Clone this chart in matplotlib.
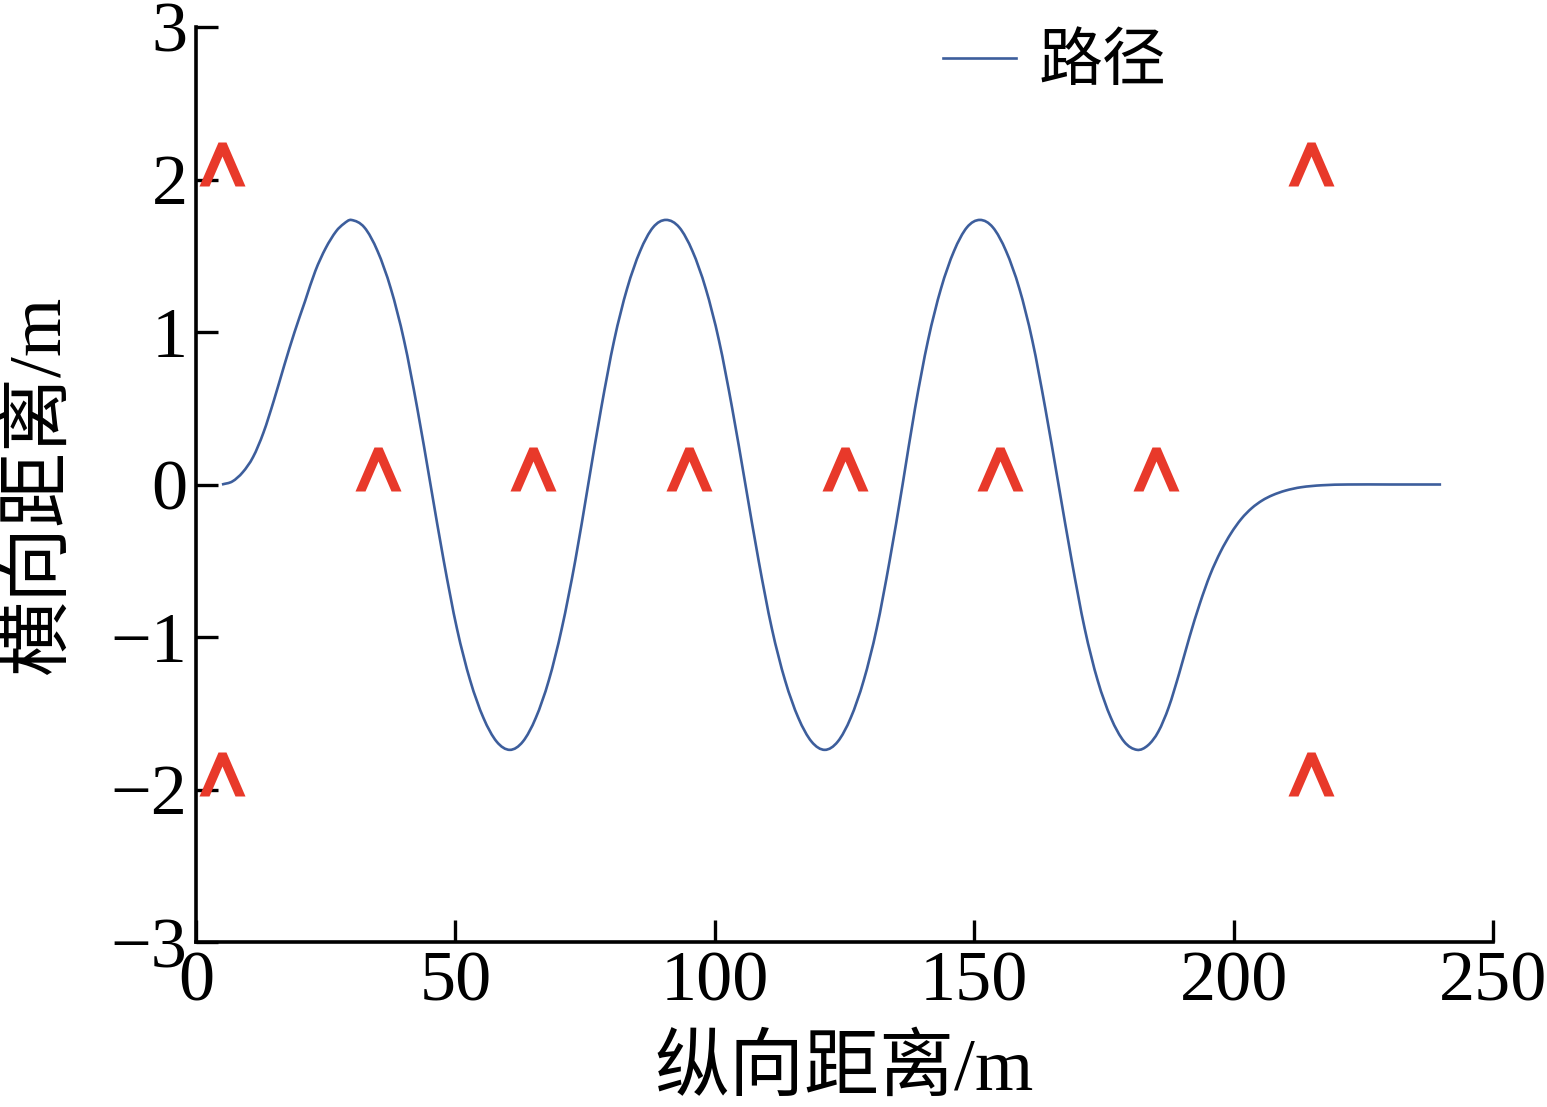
import matplotlib
matplotlib.use("Agg")
import matplotlib.pyplot as plt
from matplotlib.path import Path
from matplotlib.patches import PathPatch
from matplotlib.lines import Line2D


# path (x: longitudinal m, y: lateral m)
path_x = [
    5, 7, 9, 11, 13, 15, 17, 19, 21, 23, 25, 27, 28.5, 29.9,
    32.45, 35.0, 37.55, 40.1, 42.65, 45.2, 47.75, 50.3, 52.85, 55.4, 57.95, 60.5,
    63.0, 65.5, 68.0, 70.5, 73.1, 75.6, 78.1, 80.6, 83.1, 85.6, 88.1, 90.6,
    93.15, 95.7, 98.25, 100.8, 103.35, 105.9, 108.45, 111.0, 113.55, 116.1, 118.65, 121.2,
    123.7, 126.2, 128.7, 131.2, 133.7, 136.2, 138.6, 141.1, 143.6, 146.1, 148.6, 151.1,
    153.6, 156.15, 158.7, 161.2, 163.7, 166.25, 168.8, 171.3, 173.8, 176.35, 178.9, 181.4,
    183.5, 185.5, 187.5, 189.5, 191.5, 193.5, 195.5, 197.5, 199.5, 201.5, 203.5, 205.5,
    207.5, 210, 213, 217, 222, 230, 240,
]
path_y = [
    0.0, 0.02, 0.08, 0.18, 0.34, 0.55, 0.78, 1.0, 1.2, 1.4, 1.55, 1.66, 1.71, 1.735,
    1.686, 1.53, 1.285, 0.945, 0.5, 0.0, -0.5, -0.945, -1.285, -1.53, -1.686, -1.74,
    -1.686, -1.53, -1.285, -0.945, -0.5, 0.0, 0.5, 0.945, 1.285, 1.53, 1.686, 1.735,
    1.686, 1.53, 1.285, 0.945, 0.5, 0.0, -0.5, -0.945, -1.285, -1.53, -1.686, -1.74,
    -1.686, -1.53, -1.285, -0.945, -0.5, 0.0, 0.5, 0.945, 1.285, 1.53, 1.686, 1.735,
    1.686, 1.53, 1.285, 0.945, 0.5, 0.0, -0.5, -0.945, -1.285, -1.53, -1.686, -1.74,
    -1.71, -1.62, -1.46, -1.24, -1.00, -0.78, -0.59, -0.44, -0.32, -0.225, -0.155, -0.105,
    -0.07, -0.04, -0.018, -0.005, 0.0, 0.0, 0.0,
]

# obstacle cones
cone_x = [5, 5, 35, 65, 95, 125, 155, 185, 215, 215]
cone_y = [2, -2, 0, 0, 0, 0, 0, 0, 2, -2]

x_ticks = [0, 50, 100, 150, 200, 250]
y_ticks = [-3, -2, -1, 0, 1, 2, 3]

LINE_COLOR = "#3d5e9c"
CONE_COLOR = "#e8392a"

plt.rcParams["font.family"] = ["Liberation Serif", "Noto Sans CJK SC"]


def smooth_path(xs, ys):
    # cubic hermite through the read points (slopes from neighbours), drawn as beziers
    n = len(xs)
    slopes = []
    for i in range(n):
        a = max(i - 1, 0)
        b = min(i + 1, n - 1)
        slopes.append((ys[b] - ys[a]) / (xs[b] - xs[a]))
    verts = [(xs[0], ys[0])]
    codes = [Path.MOVETO]
    for i in range(n - 1):
        h = xs[i + 1] - xs[i]
        verts.append((xs[i] + h / 3, ys[i] + slopes[i] * h / 3))
        verts.append((xs[i + 1] - h / 3, ys[i + 1] - slopes[i + 1] * h / 3))
        verts.append((xs[i + 1], ys[i + 1]))
        codes += [Path.CURVE4] * 3
    return Path(verts, codes)


# chevron marker in pixel units, base a little below the point
cone_verts = [(-23, -6), (-4, 38), (4, 38), (23, -6), (13, -6), (0, 24), (-13, -6), (-23, -6)]
cone_codes = [Path.MOVETO] + [Path.LINETO] * 6 + [Path.CLOSEPOLY]
cone_marker = Path(cone_verts, cone_codes)
cone_extent = max(max(abs(vx), abs(vy)) for vx, vy in cone_verts)
cone_size = 2 * cone_extent * 72 / 100

fig = plt.figure(figsize=(15.47, 11.07), dpi=100)
ax = fig.add_axes([196 / 1547, 1 - 942 / 1107, (1493 - 196) / 1547, (942 - 27) / 1107])

ax.add_patch(PathPatch(smooth_path(path_x, path_y), fill=False,
                       edgecolor=LINE_COLOR, linewidth=1.9))
ax.plot(cone_x, cone_y, linestyle="none", marker=cone_marker, markersize=cone_size,
        markerfacecolor=CONE_COLOR, markeredgewidth=0, color=CONE_COLOR)

ax.set_xlim(0, 250)
ax.set_ylim(-3, 3)
ax.set_xticks(x_ticks)
ax.set_yticks(y_ticks)

for side in ("top", "right"):
    ax.spines[side].set_visible(False)
for side in ("left", "bottom"):
    ax.spines[side].set_linewidth(2.6)

ax.tick_params(direction="in", length=16, width=2.4, labelsize=52, pad=6)
for lab in ax.get_xticklabels() + ax.get_yticklabels():
    lab.set_family("Liberation Serif")

ax.set_xlabel("纵向距离/m", fontsize=54, labelpad=15)
ax.set_ylabel("横向距离/m", fontsize=54, labelpad=26)

proxy = Line2D([], [], color=LINE_COLOR, linewidth=1.9)
ax.legend([proxy], ["路径"], loc="center left",
          bbox_to_anchor=(943 / 1547, 1 - 65 / 1107),
          bbox_transform=fig.transFigure, frameon=False, fontsize=46,
          borderpad=0, borderaxespad=0, handlelength=1.15, handletextpad=0.35)

fig.savefig("out.png", dpi=100)
plt.close(fig)
